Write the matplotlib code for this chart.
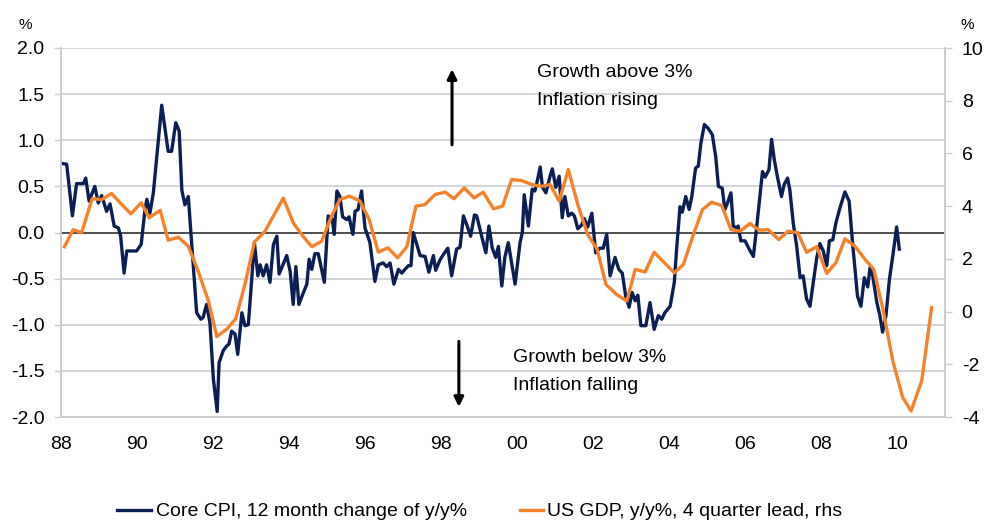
import matplotlib
matplotlib.use("Agg")
import matplotlib.pyplot as plt

plt.rcParams['font.family'] = ['Liberation Sans', 'DejaVu Sans']

# Core CPI, 12 month change of y/y% (left axis)
cpi_years = [1988.00, 1988.15, 1988.30, 1988.41, 1988.59, 1988.65, 1988.74, 1988.89, 1988.98, 1989.07,
             1989.20, 1989.29, 1989.40, 1989.51, 1989.57, 1989.66, 1989.73, 1989.99, 1990.11, 1990.21,
             1990.26, 1990.34, 1990.43, 1990.52, 1990.65, 1990.82, 1990.91, 1991.02, 1991.11, 1991.18,
             1991.26, 1991.35, 1991.57, 1991.68, 1991.74, 1991.83, 1991.92, 1992.01, 1992.11, 1992.16,
             1992.27, 1992.36, 1992.42, 1992.49, 1992.58, 1992.65, 1992.76, 1992.84, 1992.93, 1993.09,
             1993.18, 1993.24, 1993.32, 1993.41, 1993.50, 1993.59, 1993.68, 1993.74, 1993.94, 1994.03,
             1994.11, 1994.18, 1994.26, 1994.38, 1994.47, 1994.53, 1994.60, 1994.68, 1994.77, 1994.93,
             1995.03, 1995.14, 1995.19, 1995.26, 1995.34, 1995.41, 1995.52, 1995.58, 1995.68, 1995.74,
             1995.82, 1995.91, 1996.00, 1996.13, 1996.26, 1996.35, 1996.48, 1996.57, 1996.66, 1996.76,
             1996.88, 1996.97, 1997.05, 1997.14, 1997.21, 1997.27, 1997.45, 1997.58, 1997.68, 1997.80,
             1997.86, 1997.97, 1998.06, 1998.18, 1998.28, 1998.41, 1998.50, 1998.59, 1998.69, 1998.78,
             1998.88, 1998.94, 1999.07, 1999.18, 1999.26, 1999.35, 1999.44, 1999.51, 1999.60, 1999.68,
             1999.77, 1999.95, 2000.08, 2000.14, 2000.19, 2000.30, 2000.40, 2000.47, 2000.54, 2000.61,
             2000.67, 2000.76, 2000.87, 2000.93, 2001.02, 2001.11, 2001.19, 2001.26, 2001.35, 2001.44,
             2001.51, 2001.60, 2001.70, 2001.77, 2001.86, 2001.97, 2002.07, 2002.18, 2002.27, 2002.36,
             2002.45, 2002.58, 2002.68, 2002.77, 2002.86, 2002.95, 2003.03, 2003.11, 2003.18, 2003.26,
             2003.39, 2003.50, 2003.61, 2003.72, 2003.81, 2003.89, 2004.03, 2004.14, 2004.20, 2004.29,
             2004.35, 2004.44, 2004.53, 2004.60, 2004.70, 2004.77, 2004.84, 2004.93, 2005.03, 2005.14,
             2005.23, 2005.30, 2005.40, 2005.47, 2005.54, 2005.63, 2005.69, 2005.78, 2005.82, 2005.89,
             2006.00, 2006.11, 2006.22, 2006.31, 2006.46, 2006.53, 2006.63, 2006.70, 2006.77, 2006.86,
             2006.96, 2007.03, 2007.12, 2007.18, 2007.27, 2007.36, 2007.45, 2007.53, 2007.62, 2007.71,
             2007.80, 2007.89, 2007.97, 2008.06, 2008.15, 2008.22, 2008.31, 2008.39, 2008.50, 2008.63,
             2008.74, 2008.83, 2008.96, 2009.05, 2009.14, 2009.23, 2009.29, 2009.36, 2009.47, 2009.55,
             2009.62, 2009.71, 2009.80, 2009.90, 2009.99, 2010.06]
cpi_values = [0.75, 0.74, 0.18, 0.53, 0.53, 0.59, 0.34, 0.50, 0.32, 0.40,
              0.23, 0.31, 0.07, 0.05, -0.04, -0.44, -0.20, -0.20, -0.13, 0.25,
              0.36, 0.21, 0.43, 0.82, 1.38, 0.88, 0.88, 1.19, 1.10, 0.46,
              0.30, 0.39, -0.87, -0.94, -0.92, -0.78, -0.98, -1.59, -1.94, -1.41,
              -1.28, -1.23, -1.21, -1.07, -1.10, -1.32, -0.87, -1.01, -1.00, -0.11,
              -0.47, -0.35, -0.47, -0.35, -0.54, -0.13, -0.04, -0.45, -0.25, -0.42,
              -0.78, -0.37, -0.78, -0.65, -0.56, -0.29, -0.40, -0.23, -0.23, -0.54,
              0.18, 0.14, -0.02, 0.45, 0.39, 0.17, 0.14, 0.17, -0.02, 0.23,
              0.25, 0.45, 0.05, -0.11, -0.53, -0.35, -0.33, -0.37, -0.33, -0.56,
              -0.40, -0.44, -0.40, -0.36, -0.36, 0.00, -0.25, -0.26, -0.43, -0.25,
              -0.41, -0.30, -0.24, -0.17, -0.47, -0.18, -0.16, 0.18, 0.07, -0.04,
              0.19, 0.18, -0.04, -0.22, 0.07, -0.17, -0.27, -0.15, -0.58, -0.27,
              -0.11, -0.56, -0.11, 0.00, 0.41, 0.07, 0.47, 0.45, 0.57, 0.71,
              0.49, 0.43, 0.61, 0.69, 0.49, 0.61, 0.16, 0.39, 0.18, 0.21,
              0.18, 0.04, 0.08, 0.15, 0.06, 0.21, -0.22, -0.17, -0.17, -0.02,
              -0.47, -0.27, -0.40, -0.44, -0.69, -0.81, -0.65, -0.74, -0.68, -1.01,
              -1.01, -0.76, -1.05, -0.90, -0.94, -0.87, -0.80, -0.54, -0.18, 0.28,
              0.22, 0.39, 0.25, 0.39, 0.70, 0.72, 0.97, 1.17, 1.13, 1.06,
              0.82, 0.50, 0.48, 0.25, 0.32, 0.43, 0.07, 0.05, 0.07, -0.09,
              -0.09, -0.18, -0.26, 0.07, 0.66, 0.60, 0.68, 1.01, 0.79, 0.59,
              0.39, 0.52, 0.59, 0.46, 0.10, -0.15, -0.49, -0.47, -0.72, -0.80,
              -0.53, -0.27, -0.12, -0.20, -0.36, -0.09, -0.08, 0.10, 0.27, 0.44,
              0.34, -0.11, -0.69, -0.80, -0.49, -0.59, -0.38, -0.47, -0.76, -0.90,
              -1.08, -0.90, -0.51, -0.22, 0.06, -0.18]

# US GDP, y/y%, 4 quarter lead (right axis)
gdp_years = [1988.09, 1988.32, 1988.54, 1988.82, 1989.07, 1989.33, 1989.60, 1989.84, 1990.11, 1990.32,
             1990.61, 1990.82, 1991.09, 1991.35, 1991.61, 1991.88, 1992.10, 1992.36, 1992.60, 1992.84,
             1993.09, 1993.37, 1993.61, 1993.85, 1994.11, 1994.35, 1994.60, 1994.86, 1995.11, 1995.34,
             1995.59, 1995.87, 1996.11, 1996.35, 1996.60, 1996.86, 1997.10, 1997.34, 1997.58, 1997.84,
             1998.11, 1998.34, 1998.61, 1998.87, 1999.11, 1999.38, 1999.62, 1999.86, 2000.12, 2000.39,
             2000.63, 2000.87, 2001.11, 2001.35, 2001.60, 2001.86, 2002.11, 2002.34, 2002.62, 2002.89,
             2003.11, 2003.37, 2003.61, 2003.88, 2004.14, 2004.38, 2004.64, 2004.88, 2005.12, 2005.39,
             2005.63, 2005.87, 2006.13, 2006.37, 2006.61, 2006.89, 2007.13, 2007.39, 2007.62, 2007.89,
             2008.15, 2008.39, 2008.63, 2008.89, 2009.16, 2009.39, 2009.64, 2009.89, 2010.15, 2010.37,
             2010.65, 2010.91]
gdp_values = [2.46, 3.11, 2.99, 4.28, 4.25, 4.48, 4.06, 3.71, 4.13, 3.56,
              3.84, 2.71, 2.82, 2.48, 1.53, 0.40, -0.95, -0.67, -0.27, 1.03,
              2.64, 3.05, 3.68, 4.31, 3.37, 2.89, 2.46, 2.67, 3.59, 4.25,
              4.38, 4.19, 3.49, 2.25, 2.42, 2.04, 2.46, 4.00, 4.06, 4.44,
              4.53, 4.28, 4.69, 4.31, 4.53, 3.90, 4.00, 5.01, 4.97, 4.82,
              4.75, 4.82, 4.19, 5.39, 4.06, 2.92, 2.36, 1.03, 0.65, 0.40,
              1.60, 1.50, 2.25, 1.85, 1.47, 1.79, 2.92, 3.87, 4.15, 4.02,
              3.11, 3.05, 3.34, 3.09, 3.11, 2.73, 3.05, 2.99, 2.25, 2.46,
              1.45, 1.85, 2.76, 2.48, 1.98, 1.60, 0.02, -1.88, -3.26, -3.77,
              -2.63, 0.15]

x_tick_pos = [1988, 1990, 1992, 1994, 1996, 1998, 2000, 2002, 2004, 2006, 2008, 2010]
x_tick_labels = ['88', '90', '92', '94', '96', '98', '00', '02', '04', '06', '08', '10']
left_ticks = [-2.0, -1.5, -1.0, -0.5, 0.0, 0.5, 1.0, 1.5, 2.0]
right_ticks = [-4, -2, 0, 2, 4, 6, 8, 10]

series_names = ['Core CPI, 12 month change of y/y%', 'US GDP, y/y%, 4 quarter lead, rhs']

NAVY = '#0c1f55'
ORANGE = '#f5822a'
GRID = '#c9cdd2'
FS = 14

fig = plt.figure(figsize=(9.84, 5.22), dpi=100)
ax = fig.add_axes([61/984, 1-417/522, (945-61)/984, (417-48)/522])
ax2 = ax.twinx()

ax.set_xlim(1988.0, 2011.263)
ax.set_ylim(-2.0, 2.0)
ax2.set_ylim(-4, 10)

for v in left_ticks:
    if v != 0:
        ax.axhline(v, color=GRID, lw=1.2, zorder=0)
ax.axhline(0, color='#404040', lw=1.3, zorder=1)

ax.plot(cpi_years, cpi_values, color=NAVY, lw=2.4, zorder=3, solid_joinstyle='round')
ax2.plot(gdp_years, gdp_values, color=ORANGE, lw=2.4, zorder=3, solid_joinstyle='round')

ax.set_xticks(x_tick_pos)
ax.set_xticklabels(x_tick_labels, fontsize=FS)
ax.tick_params(axis='x', length=0, pad=14)
ax.set_yticks(left_ticks)
ax.set_yticklabels([f'{v:.1f}' for v in left_ticks], fontsize=FS)
ax.tick_params(axis='y', direction='out', length=5, width=1, color=GRID, pad=7)
ax2.set_yticks(right_ticks)
ax2.set_yticklabels([str(v) for v in right_ticks], fontsize=FS)
ax2.tick_params(axis='y', direction='out', length=5, width=1, color=GRID, pad=7)

for a in (ax, ax2):
    a.spines['top'].set_visible(False)
    for s in ('left', 'right', 'bottom'):
        a.spines[s].set_color(GRID)
        a.spines[s].set_linewidth(1.2)

fig.text(25/984, 1-25/522, '%', fontsize=11, ha='center', va='center')
fig.text(967/984, 1-25/522, '%', fontsize=11, ha='center', va='center')

ax.text(2000.53, 1.73, 'Growth above 3%', fontsize=FS, ha='left', va='center')
ax.text(2000.53, 1.43, 'Inflation rising', fontsize=FS, ha='left', va='center')
ax.text(1999.90, -1.36, 'Growth below 3%', fontsize=FS, ha='left', va='center')
ax.text(1999.90, -1.66, 'Inflation falling', fontsize=FS, ha='left', va='center')

ax.annotate('', xy=(1998.29, 1.77), xytext=(1998.29, 0.95),
            arrowprops=dict(arrowstyle='-|>', lw=2.2, color='black', mutation_scale=14, shrinkA=0, shrinkB=0))
ax.annotate('', xy=(1998.47, -1.89), xytext=(1998.47, -1.18),
            arrowprops=dict(arrowstyle='-|>', lw=2.2, color='black', mutation_scale=14, shrinkA=0, shrinkB=0))

# legend at the bottom
yb = 1 - 510/522
fig.lines.append(plt.Line2D([117/984, 151/984], [yb, yb], color=NAVY, lw=2.4, transform=fig.transFigure))
fig.lines.append(plt.Line2D([520/984, 543/984], [yb, yb], color=ORANGE, lw=2.4, transform=fig.transFigure))
fig.text(156/984, 1-516/522, series_names[0], fontsize=FS, ha='left', va='baseline')
fig.text(547/984, 1-516/522, series_names[1], fontsize=FS, ha='left', va='baseline')

fig.savefig('out.png', dpi=100)
